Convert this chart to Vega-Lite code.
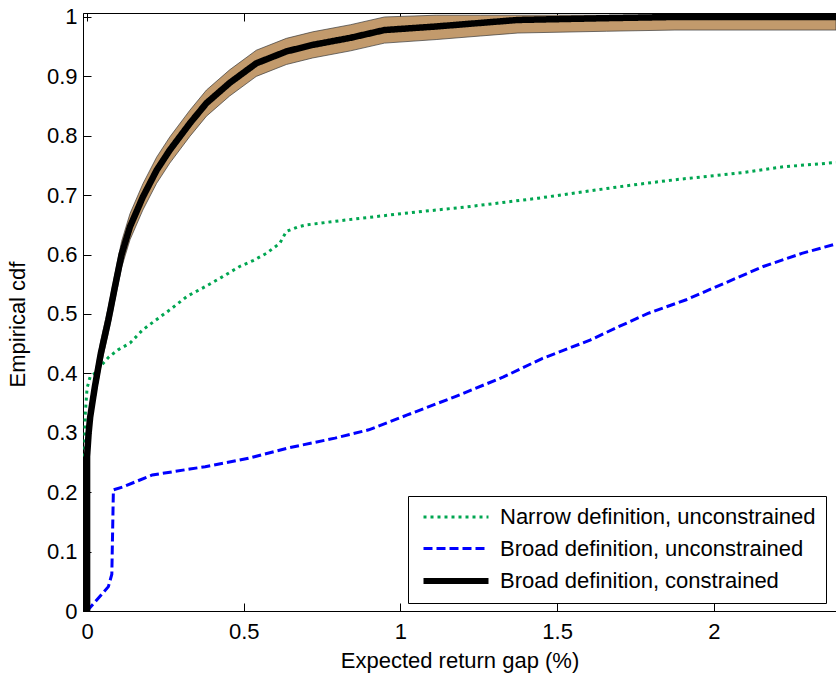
{
  "$schema": "https://vega.github.io/schema/vega-lite/v6.json",
  "width": 753,
  "height": 598,
  "autosize": {"type": "none"},
  "padding": {"left": 83, "top": 13, "right": 0, "bottom": 64},
  "background": "white",
  "config": {
    "view": {"stroke": "black", "strokeWidth": 1},
    "font": "Liberation Sans",
    "axis": {
      "domainColor": "black",
      "domainWidth": 1,
      "tickColor": "black",
      "tickWidth": 1,
      "tickSize": -8,
      "labelFont": "Liberation Sans",
      "labelFontSize": 22,
      "labelColor": "black",
      "titleFont": "Liberation Sans",
      "titleFontSize": 22,
      "titleFontWeight": "normal",
      "titleColor": "black",
      "grid": false
    },
    "legend": {
      "orient": "none",
      "legendX": 325,
      "legendY": 483,
      "strokeColor": "black",
      "strokeWidth": 1,
      "fillColor": "white",
      "padding": 10,
      "symbolSize": 441,
      "symbolStrokeWidth": 3,
      "symbolOffset": 27,
      "labelFont": "Liberation Sans",
      "labelFontSize": 22,
      "labelColor": "black",
      "labelOffset": 33,
      "labelLimit": 0,
      "rowPadding": 9.5,
      "title": null
    }
  },
  "datasets": {
    "band": [
      {"x": 0, "lo": 0, "hi": 0.022},
      {"x": 0, "lo": 0.238, "hi": 0.282},
      {"x": 0.005, "lo": 0.278, "hi": 0.322},
      {"x": 0.01, "lo": 0.305, "hi": 0.349},
      {"x": 0.025, "lo": 0.356, "hi": 0.4},
      {"x": 0.044, "lo": 0.412, "hi": 0.456},
      {"x": 0.068, "lo": 0.468, "hi": 0.512},
      {"x": 0.089, "lo": 0.524, "hi": 0.568},
      {"x": 0.11, "lo": 0.578, "hi": 0.622},
      {"x": 0.137, "lo": 0.625, "hi": 0.669},
      {"x": 0.178, "lo": 0.675, "hi": 0.719},
      {"x": 0.222, "lo": 0.72, "hi": 0.764},
      {"x": 0.264, "lo": 0.754, "hi": 0.798},
      {"x": 0.328, "lo": 0.799, "hi": 0.843},
      {"x": 0.381, "lo": 0.833, "hi": 0.877},
      {"x": 0.455, "lo": 0.867, "hi": 0.911},
      {"x": 0.54, "lo": 0.9, "hi": 0.944},
      {"x": 0.636, "lo": 0.92, "hi": 0.964},
      {"x": 0.72, "lo": 0.931, "hi": 0.975},
      {"x": 0.841, "lo": 0.943, "hi": 0.987},
      {"x": 0.949, "lo": 0.956, "hi": 1.0},
      {"x": 1.114, "lo": 0.962, "hi": 1.003},
      {"x": 1.255, "lo": 0.968, "hi": 1.003},
      {"x": 1.375, "lo": 0.973, "hi": 1.003},
      {"x": 1.658, "lo": 0.976, "hi": 1.003},
      {"x": 1.876, "lo": 0.978, "hi": 1.003},
      {"x": 2.39, "lo": 0.978, "hi": 1.003}
    ],
    "cdf": [
      {"series": "Narrow definition, unconstrained", "x": -0.008, "y": 0.26},
      {"series": "Narrow definition, unconstrained", "x": -0.006, "y": 0.33},
      {"series": "Narrow definition, unconstrained", "x": 0.0, "y": 0.375},
      {"series": "Narrow definition, unconstrained", "x": 0.01, "y": 0.395},
      {"series": "Narrow definition, unconstrained", "x": 0.024, "y": 0.4},
      {"series": "Narrow definition, unconstrained", "x": 0.041, "y": 0.411},
      {"series": "Narrow definition, unconstrained", "x": 0.07, "y": 0.428},
      {"series": "Narrow definition, unconstrained", "x": 0.1, "y": 0.44},
      {"series": "Narrow definition, unconstrained", "x": 0.137, "y": 0.451},
      {"series": "Narrow definition, unconstrained", "x": 0.177, "y": 0.473},
      {"series": "Narrow definition, unconstrained", "x": 0.22, "y": 0.49},
      {"series": "Narrow definition, unconstrained", "x": 0.264, "y": 0.507},
      {"series": "Narrow definition, unconstrained", "x": 0.32, "y": 0.53},
      {"series": "Narrow definition, unconstrained", "x": 0.377, "y": 0.546},
      {"series": "Narrow definition, unconstrained", "x": 0.43, "y": 0.562},
      {"series": "Narrow definition, unconstrained", "x": 0.487, "y": 0.58},
      {"series": "Narrow definition, unconstrained", "x": 0.53, "y": 0.59},
      {"series": "Narrow definition, unconstrained", "x": 0.572, "y": 0.602},
      {"series": "Narrow definition, unconstrained", "x": 0.615, "y": 0.619},
      {"series": "Narrow definition, unconstrained", "x": 0.636, "y": 0.639},
      {"series": "Narrow definition, unconstrained", "x": 0.67, "y": 0.646},
      {"series": "Narrow definition, unconstrained", "x": 0.7, "y": 0.65},
      {"series": "Narrow definition, unconstrained", "x": 0.806, "y": 0.657},
      {"series": "Narrow definition, unconstrained", "x": 1.005, "y": 0.669},
      {"series": "Narrow definition, unconstrained", "x": 1.223, "y": 0.681},
      {"series": "Narrow definition, unconstrained", "x": 1.44, "y": 0.695},
      {"series": "Narrow definition, unconstrained", "x": 1.723, "y": 0.716},
      {"series": "Narrow definition, unconstrained", "x": 1.876, "y": 0.726},
      {"series": "Narrow definition, unconstrained", "x": 2.094, "y": 0.738},
      {"series": "Narrow definition, unconstrained", "x": 2.224, "y": 0.748},
      {"series": "Narrow definition, unconstrained", "x": 2.39, "y": 0.755},
      {"series": "Broad definition, unconstrained", "x": 0.0, "y": 0.0},
      {"series": "Broad definition, unconstrained", "x": 0.068, "y": 0.041},
      {"series": "Broad definition, unconstrained", "x": 0.079, "y": 0.062},
      {"series": "Broad definition, unconstrained", "x": 0.081, "y": 0.12},
      {"series": "Broad definition, unconstrained", "x": 0.084, "y": 0.204},
      {"series": "Broad definition, unconstrained", "x": 0.115, "y": 0.209},
      {"series": "Broad definition, unconstrained", "x": 0.208, "y": 0.229},
      {"series": "Broad definition, unconstrained", "x": 0.328, "y": 0.239},
      {"series": "Broad definition, unconstrained", "x": 0.377, "y": 0.243},
      {"series": "Broad definition, unconstrained", "x": 0.515, "y": 0.257},
      {"series": "Broad definition, unconstrained", "x": 0.638, "y": 0.274},
      {"series": "Broad definition, unconstrained", "x": 0.791, "y": 0.291},
      {"series": "Broad definition, unconstrained", "x": 0.899, "y": 0.305},
      {"series": "Broad definition, unconstrained", "x": 1.022, "y": 0.33},
      {"series": "Broad definition, unconstrained", "x": 1.175, "y": 0.361},
      {"series": "Broad definition, unconstrained", "x": 1.329, "y": 0.394},
      {"series": "Broad definition, unconstrained", "x": 1.452, "y": 0.425},
      {"series": "Broad definition, unconstrained", "x": 1.605, "y": 0.456},
      {"series": "Broad definition, unconstrained", "x": 1.698, "y": 0.479},
      {"series": "Broad definition, unconstrained", "x": 1.79, "y": 0.501},
      {"series": "Broad definition, unconstrained", "x": 1.912, "y": 0.524},
      {"series": "Broad definition, unconstrained", "x": 2.035, "y": 0.552},
      {"series": "Broad definition, unconstrained", "x": 2.158, "y": 0.58},
      {"series": "Broad definition, unconstrained", "x": 2.281, "y": 0.602},
      {"series": "Broad definition, unconstrained", "x": 2.39, "y": 0.618},
      {"series": "Broad definition, constrained", "x": 0.0, "y": 0.0},
      {"series": "Broad definition, constrained", "x": 0.0, "y": 0.26},
      {"series": "Broad definition, constrained", "x": 0.005, "y": 0.3},
      {"series": "Broad definition, constrained", "x": 0.01, "y": 0.327},
      {"series": "Broad definition, constrained", "x": 0.025, "y": 0.378},
      {"series": "Broad definition, constrained", "x": 0.044, "y": 0.434},
      {"series": "Broad definition, constrained", "x": 0.068, "y": 0.49},
      {"series": "Broad definition, constrained", "x": 0.089, "y": 0.546},
      {"series": "Broad definition, constrained", "x": 0.11, "y": 0.6},
      {"series": "Broad definition, constrained", "x": 0.137, "y": 0.647},
      {"series": "Broad definition, constrained", "x": 0.178, "y": 0.697},
      {"series": "Broad definition, constrained", "x": 0.222, "y": 0.742},
      {"series": "Broad definition, constrained", "x": 0.264, "y": 0.776},
      {"series": "Broad definition, constrained", "x": 0.328, "y": 0.821},
      {"series": "Broad definition, constrained", "x": 0.381, "y": 0.855},
      {"series": "Broad definition, constrained", "x": 0.455, "y": 0.889},
      {"series": "Broad definition, constrained", "x": 0.54, "y": 0.922},
      {"series": "Broad definition, constrained", "x": 0.636, "y": 0.942},
      {"series": "Broad definition, constrained", "x": 0.72, "y": 0.953},
      {"series": "Broad definition, constrained", "x": 0.841, "y": 0.965},
      {"series": "Broad definition, constrained", "x": 0.949, "y": 0.978},
      {"series": "Broad definition, constrained", "x": 1.114, "y": 0.984},
      {"series": "Broad definition, constrained", "x": 1.255, "y": 0.99},
      {"series": "Broad definition, constrained", "x": 1.375, "y": 0.995},
      {"series": "Broad definition, constrained", "x": 1.658, "y": 0.998},
      {"series": "Broad definition, constrained", "x": 1.876, "y": 1.0},
      {"series": "Broad definition, constrained", "x": 2.39, "y": 1.0}
    ]
  },
  "layer": [
    {
      "data": {"name": "band"},
      "mark": {"type": "area", "fill": "#C29A6C", "fillOpacity": 1, "opacity": 1, "stroke": "#3a3a3a", "strokeWidth": 0.7, "clip": true},
      "encoding": {
        "x": {
          "field": "x", "type": "quantitative",
          "scale": {"domain": [-0.013, 2.39], "nice": false, "zero": false},
          "axis": {
            "orient": "bottom",
            "values": [0, 0.5, 1, 1.5, 2],
            "format": "~g",
            "labelPadding": 18,
            "title": "Expected return gap (%)",
            "titleY": 56,
            "titleBaseline": "alphabetic"
          }
        },
        "y": {
          "field": "lo", "type": "quantitative",
          "scale": {"domain": [0, 1.0067], "nice": false},
          "axis": {
            "values": [0, 0.1, 0.2, 0.3, 0.4, 0.5, 0.6, 0.7, 0.8, 0.9, 1],
            "format": "~g",
            "labelPadding": 14,
            "title": "Empirical cdf",
            "titleX": -59,
            "titleY": 311,
            "titleBaseline": "alphabetic",
            "titleAngle": -90
          }
        },
        "y2": {"field": "hi"}
      }
    },
    {
      "data": {"name": "cdf"},
      "mark": {"type": "line", "clip": true},
      "encoding": {
        "x": {
          "field": "x", "type": "quantitative",
          "axis": {"orient": "top", "values": [0, 0.5, 1, 1.5, 2], "labels": false, "title": null, "domain": false}
        },
        "y": {"field": "y", "type": "quantitative"},
        "order": {"value": null},
        "color": {
          "field": "series", "type": "nominal",
          "scale": {
            "domain": ["Narrow definition, unconstrained", "Broad definition, unconstrained", "Broad definition, constrained"],
            "range": ["#00A651", "#0000FF", "#000000"]
          },
          "legend": {
            "symbolType": "M-3.095,0H3.095",
            "encode": {
              "symbols": {
                "update": {
                  "strokeWidth": {"signal": "datum.value === 'Broad definition, constrained' ? 6 : 3"}
                }
              }
            }
          }
        },
        "strokeDash": {
          "field": "series", "type": "nominal",
          "scale": {
            "domain": ["Narrow definition, unconstrained", "Broad definition, unconstrained", "Broad definition, constrained"],
            "range": [[3, 4], [9, 4], [1, 0]]
          },
          "legend": {"symbolType": "M-3.095,0H3.095"}
        },
        "strokeWidth": {
          "condition": {"test": "datum.series === 'Broad definition, constrained'", "value": 6.5},
          "value": 3
        }
      }
    }
  ],
  "resolve": {"axis": {"x": "independent"}}
}
